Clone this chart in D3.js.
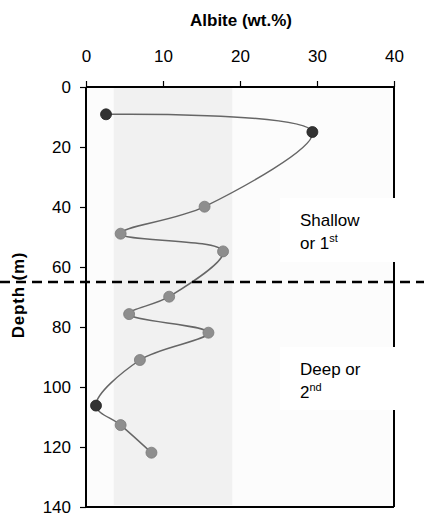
<!DOCTYPE html>
<html>
<head>
<meta charset="utf-8">
<script src="https://cdn.jsdelivr.net/npm/d3@7"></script>
<style>
  body { margin: 0; background: #fff; }
  svg { font-family: "Liberation Sans", Arial, sans-serif; }
</style>
</head>
<body>
<div id="chart"></div>
<script>
// albite wt.% vs depth (m)
const albite = [2.6, 29.4, 15.4, 4.5, 17.8, 10.8, 5.6, 15.9, 7.0, 1.3, 4.5, 8.5]
const depth = [9.1, 15, 39.9, 48.9, 54.8, 69.9, 75.7, 81.9, 91, 106.2, 112.7, 121.9]
const dark = [true, true, false, false, false, false, false, false, false, true, false, false]
const band = [3.6, 19]
const boundaryDepth = 65
const xTicks = [0, 10, 20, 30, 40]
const yTicks = [0, 20, 40, 60, 80, 100, 120, 140]

const W = 424, H = 515
const dim = {ml: 86, mt: 87, width: 308, height: 420}

const svg = d3.select("#chart").append("svg").attr("width", W).attr("height", H)
const x = d3.scaleLinear().domain([0, 40]).range([0, dim.width])
const y = d3.scaleLinear().domain([0, 140]).range([0, dim.height])

const g = svg.append("g").attr("transform", "translate(" + dim.ml + "," + dim.mt + ")")

g.append("rect").attr("width", dim.width).attr("height", dim.height).attr("fill", "#fcfcfc")
g.append("rect")
  .attr("x", x(band[0])).attr("width", x(band[1]) - x(band[0]))
  .attr("y", 0).attr("height", dim.height - 2)
  .attr("fill", "#f1f1f1")

// frame right / bottom
g.append("line").attr("x1", dim.width).attr("x2", dim.width).attr("y1", 0).attr("y2", dim.height)
  .attr("stroke", "#000").attr("stroke-width", 2)
g.append("line").attr("x1", 0).attr("x2", dim.width).attr("y1", dim.height).attr("y2", dim.height)
  .attr("stroke", "#000").attr("stroke-width", 2)

const pts = albite.map((a, i) => ({a: a, d: depth[i], dark: dark[i]}))

const line = d3.line().curve(d3.curveCatmullRom.alpha(0.5))
  .x(d => x(d.a)).y(d => y(d.d))
g.append("path").attr("d", line(pts))
  .attr("fill", "none").attr("stroke", "#666").attr("stroke-width", 1.5)

g.selectAll("circle.pt").data(pts).join("circle")
  .attr("class", "pt")
  .attr("cx", d => x(d.a)).attr("cy", d => y(d.d)).attr("r", 5.5)
  .attr("fill", d => d.dark ? "#333" : "#8e8e8e")
  .attr("stroke", d => d.dark ? "#222" : "#7a7a7a").attr("stroke-width", 0.8)

// label boxes (they cover the right frame line)
function labelBox(y0, y1, lines) {
  g.append("rect").attr("x", 194).attr("y", y0).attr("width", 115).attr("height", y1 - y0).attr("fill", "#fff")
  const t = g.append("text").attr("x", 214).attr("y", y0 + 28).attr("font-size", 17).attr("fill", "#000")
  t.append("tspan").text(lines[0])
  const t2 = g.append("text").attr("x", 214).attr("y", y0 + 51).attr("font-size", 17).attr("fill", "#000")
  t2.append("tspan").text(lines[1])
  t2.append("tspan").attr("dy", -7).attr("font-size", 11).text(lines[2])
}
labelBox(111, 175, ["Shallow", "or 1", "st"])
labelBox(260, 323, ["Deep or", "2", "nd"])

// top axis
const xa = g.append("g").call(d3.axisTop(x).tickValues(xTicks).tickSize(6).tickPadding(19))
xa.select(".domain").attr("stroke-width", 2).attr("d", "M0,0H" + dim.width)
xa.selectAll("line").attr("stroke-width", 1.2)
xa.selectAll("text").attr("font-size", 17).attr("fill", "#000").attr("font-family", "Liberation Sans, Arial, sans-serif")

// left axis
const ya = g.append("g").call(d3.axisLeft(y).tickValues(yTicks).tickSize(6).tickPadding(9))
ya.select(".domain").attr("stroke-width", 2).attr("d", "M0,0V" + dim.height)
ya.selectAll("line").attr("stroke-width", 1.2)
ya.selectAll("text").attr("font-size", 17).attr("fill", "#000").attr("font-family", "Liberation Sans, Arial, sans-serif")

// boundary between shallow and deep
svg.append("line")
  .attr("x1", 0).attr("x2", W)
  .attr("y1", dim.mt + y(boundaryDepth)).attr("y2", dim.mt + y(boundaryDepth))
  .attr("stroke", "#000").attr("stroke-width", 2.5).attr("stroke-dasharray", "10,6")

svg.append("text").attr("x", 241).attr("y", 26).attr("text-anchor", "middle")
  .attr("font-size", 17).attr("font-weight", "bold").text("Albite (wt.%)")
svg.append("text").attr("transform", "translate(24,295) rotate(-90)").attr("text-anchor", "middle")
  .attr("font-size", 17).attr("font-weight", "bold").attr("letter-spacing", 0.8).text("Depth (m)")
</script>
</body>
</html>
